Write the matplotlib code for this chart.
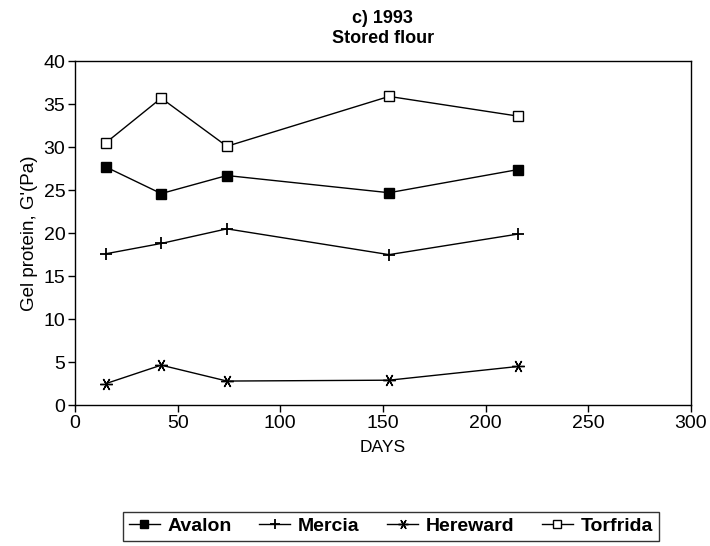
import matplotlib
matplotlib.use('Agg')
import matplotlib.pyplot as plt

plt.rcParams['font.family'] = ['Liberation Sans', 'DejaVu Sans']

# storage time (days) and gel protein G' values for each variety
days = [15, 42, 74, 153, 216]
avalon = [27.7, 24.6, 26.7, 24.7, 27.4]
mercia = [17.6, 18.8, 20.5, 17.5, 19.9]
hereward = [2.5, 4.65, 2.8, 2.9, 4.5]
torfrida = [30.5, 35.7, 30.1, 35.9, 33.6]

fig = plt.figure(figsize=(7.1, 5.46), dpi=100)
ax = fig.add_axes([0.1056, 0.258, 0.8674, 0.630])

ax.plot(days, avalon, color='black', lw=1, marker='s', ms=6.5, mfc='black', label='Avalon')
ax.plot(days, mercia, color='black', lw=1, marker='+', ms=9, mew=1.3, label='Mercia')
ax.plot(days, hereward, color='black', lw=1, marker=(6, 2, 90), ms=9, mew=1, label='Hereward')
ax.plot(days, torfrida, color='black', lw=1, marker='s', ms=7, mfc='white', mew=1, label='Torfrida')

ax.set_xlim(0, 300)
ax.set_ylim(0, 40)
ax.set_xticks(range(0, 301, 50))
ax.set_yticks(range(0, 41, 5))
ax.tick_params(direction='out', length=5, labelsize=14, width=1, pad=2)
for s in ax.spines.values():
    s.set_linewidth(1)

ax.set_xlabel('DAYS', fontsize=12.5, labelpad=6)
ax.set_ylabel("Gel protein, G'(Pa)", fontsize=13.5, labelpad=4)
ax.set_title('c) 1993\nStored flour', fontsize=13, fontweight='bold', linespacing=1.2, pad=13)

leg = fig.legend(loc='lower left', bbox_to_anchor=(0.173, 0.009, 0.755, 0.061), mode='expand',
                 ncol=4, frameon=True, fancybox=False, edgecolor='black', borderaxespad=0,
                 handlelength=1.6, handletextpad=0.4, columnspacing=0.6, borderpad=0.3,
                 markerscale=0.8, prop={'weight': 'bold', 'size': 14})
leg.get_frame().set_linewidth(1)

fig.savefig('out.png', dpi=100)
